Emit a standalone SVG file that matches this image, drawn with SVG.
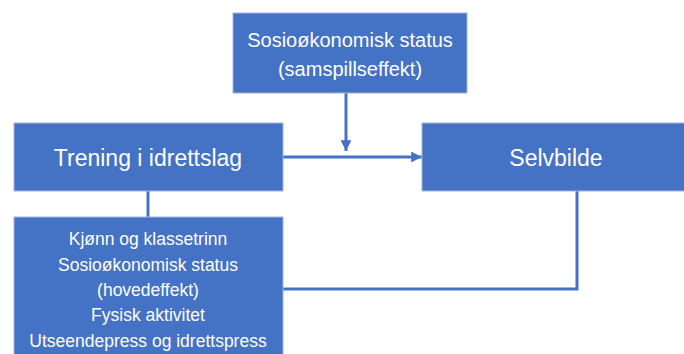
<svg xmlns="http://www.w3.org/2000/svg" width="684" height="354" viewBox="0 0 684 354">
  <style>
    .box { fill: #4472C4; stroke: #9fb5df; stroke-width: 1; }
    .t { font-family: "Liberation Sans", Arial, sans-serif; fill: #ffffff; text-anchor: middle; }
    .line { fill: none; stroke: #4472C4; stroke-width: 3; }
  </style>
  <defs>
    <marker id="arrow" viewBox="0 0 10 10" refX="10" refY="5" markerWidth="4" markerHeight="3.6" markerUnits="strokeWidth" orient="auto">
      <path d="M0,0 L10,5 L0,10 Z" fill="#4472C4"/>
    </marker>
  </defs>
  <rect width="684" height="354" fill="#ffffff"/>
  <g id="connectors">
    <line class="line" x1="346" y1="93" x2="346" y2="151" marker-end="url(#arrow)"/>
    <line class="line" x1="283" y1="157" x2="422" y2="157" marker-end="url(#arrow)"/>
    <line class="line" x1="148" y1="191" x2="148" y2="218"/>
    <polyline class="line" points="577,191 577,289 283,289"/>
  </g>
  <g id="node-ses-samspill">
    <rect class="box" x="233" y="13" width="234" height="80"/>
    <text class="t" x="350" y="47" font-size="20">Sosioøkonomisk status</text>
    <text class="t" x="350" y="76" font-size="20">(samspillseffekt)</text>
  </g>
  <g id="node-trening">
    <rect class="box" x="14" y="123" width="269" height="68"/>
    <text class="t" x="148" y="166" font-size="23">Trening i idrettslag</text>
  </g>
  <g id="node-selvbilde">
    <rect class="box" x="422" y="123" width="270" height="68"/>
    <text class="t" x="556" y="166" font-size="23">Selvbilde</text>
  </g>
  <g id="node-kontroll">
    <rect class="box" x="14" y="217" width="269" height="145"/>
    <text class="t" x="148" y="245" font-size="17.5">Kjønn og klassetrinn</text>
    <text class="t" x="148" y="270.5" font-size="17.5">Sosioøkonomisk status</text>
    <text class="t" x="148" y="295.5" font-size="17.5">(hovedeffekt)</text>
    <text class="t" x="148" y="321" font-size="17.5">Fysisk aktivitet</text>
    <text class="t" x="148" y="347" font-size="17.5">Utseendepress og idrettspress</text>
  </g>
</svg>
